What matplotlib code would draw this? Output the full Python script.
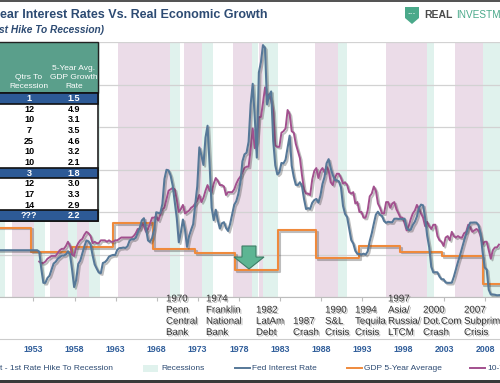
import matplotlib
matplotlib.use('Agg')
import matplotlib.pyplot as plt
import matplotlib.patheffects as pe
from matplotlib.patches import Rectangle, Polygon
from matplotlib.transforms import blended_transform_factory
import numpy as np

plt.rcParams['font.family'] = ['Liberation Sans Narrow', 'Liberation Sans', 'DejaVu Sans']

# ---- data ----
# Fed interest rate, quarterly, starting 1949 Q1
fed_start = 1949.0
fed_rate = [
    3.3, 3.3, 3.3, 3.3,      # 1949
    3.3, 3.3, 3.3, 3.3,      # 1950
    3.3, 3.3, 3.3, 3.3,      # 1951
    3.3, 3.3, 3.3, 3.3,      # 1952
    3.3, 3.3, 3.3, 3.3,      # 1953
    3.2, 2.0, 1.0, 1.0,      # 1954
    1.34, 1.50, 1.94, 2.36,  # 1955
    2.48, 2.69, 2.81, 2.93,
    2.93, 3.00, 3.23, 3.00,
    1.93, 0.70, 1.20, 2.33,
    2.57, 3.08, 3.58, 3.99,
    3.93, 3.70, 2.94, 2.30,  # 1960
    2.00, 1.73, 1.68, 2.40,
    2.46, 2.61, 2.85, 2.92,
    2.97, 2.96, 3.33, 3.45,
    3.46, 3.49, 3.46, 3.58,
    3.97, 4.08, 4.07, 4.17,  # 1965
    4.56, 4.91, 5.41, 5.56,
    4.82, 3.99, 3.89, 4.17,
    4.79, 5.98, 5.94, 5.92,
    6.57, 8.33, 8.98, 8.94,
    8.57, 7.88, 6.70, 5.57,  # 1970
    3.86, 4.56, 5.47, 4.75,
    3.54, 4.30, 4.74, 5.14,
    6.54, 7.82, 10.56, 10.00,
    9.32, 11.25, 12.09, 9.35,
    6.30, 5.42, 6.16, 5.41,  # 1975
    4.83, 5.20, 5.28, 4.87,
    4.66, 5.16, 5.82, 6.51,
    6.76, 7.28, 8.10, 9.58,
    10.07, 10.18, 10.95, 13.58,
    15.05, 12.69, 9.84, 15.85,  # 1980
    16.57, 17.78, 17.58, 13.59,
    14.23, 14.51, 11.01, 9.29,
    8.65, 8.80, 9.46, 9.43,
    9.69, 10.56, 11.39, 9.27,
    8.48, 7.92, 7.90, 8.10,  # 1985
    7.83, 6.92, 6.21, 6.27,
    6.22, 6.65, 6.84, 6.92,
    6.66, 7.16, 7.98, 8.47,
    9.44, 9.73, 9.08, 8.61,
    8.25, 8.24, 8.16, 7.74,  # 1990
    6.43, 5.86, 5.64, 4.82,
    4.02, 3.77, 3.26, 3.04,
    3.04, 3.00, 3.06, 2.99,
    3.21, 3.94, 4.49, 5.17,
    5.81, 6.02, 5.80, 5.72,  # 1995
    5.36, 5.24, 5.31, 5.28,
    5.28, 5.52, 5.53, 5.51,
    5.52, 5.50, 5.53, 4.86,
    4.73, 4.75, 5.09, 5.31,
    5.68, 6.27, 6.52, 6.47,  # 2000
    5.59, 4.33, 3.50, 2.13,
    1.73, 1.75, 1.74, 1.44,
    1.25, 1.25, 1.02, 1.00,
    1.00, 1.01, 1.43, 1.95,
    2.47, 2.94, 3.46, 3.98,  # 2005
    4.46, 4.91, 5.25, 5.25,
    5.26, 5.25, 5.07, 4.50,
    3.18, 2.09, 1.94, 0.51,
    0.18, 0.18, 0.16, 0.12,
    0.13,                    # 2010
]

# 10-year treasury rate, quarterly, starting 1954 Q1
tsy_start = 1954.0
tsy_rate = [
    2.5, 2.4, 2.4, 2.5,      # 1954
    2.7, 2.8, 2.9, 2.9,
    2.9, 3.1, 3.3, 3.4,
    3.4, 3.6, 3.9, 3.6,
    3.0, 2.9, 3.5, 3.8,
    4.0, 4.1, 4.4, 4.6,
    4.5, 4.3, 3.8, 3.9,      # 1960
    3.8, 3.8, 4.0, 4.0,
    4.0, 3.9, 4.0, 3.9,
    3.9, 4.0, 4.0, 4.1,
    4.2, 4.2, 4.2, 4.2,
    4.2, 4.2, 4.3, 4.5,      # 1965
    4.8, 4.8, 5.2, 5.0,
    4.6, 4.8, 5.2, 5.6,
    5.6, 5.7, 5.4, 5.8,
    6.2, 6.3, 6.9, 7.5,
    7.6, 7.7, 7.6, 6.9,      # 1970
    6.0, 6.2, 6.5, 5.9,
    6.0, 6.1, 6.3, 6.4,
    6.6, 6.8, 7.2, 6.7,
    7.0, 7.5, 7.9, 7.5,
    7.4, 8.0, 8.4, 8.2,      # 1975
    7.9, 7.9, 7.8, 7.2,
    7.4, 7.4, 7.4, 7.6,
    8.0, 8.3, 8.5, 8.8,
    9.1, 9.2, 9.2, 10.4,
    11.9, 10.5, 11.0, 12.7,  # 1980
    12.7, 13.7, 14.8, 14.1,
    14.3, 13.9, 13.1, 10.7,
    10.6, 10.6, 11.6, 11.7,
    11.9, 13.2, 12.9, 11.7,
    11.6, 10.8, 10.3, 9.8,   # 1985
    8.6, 7.6, 7.3, 7.3,
    7.2, 8.3, 8.9, 9.1,
    8.4, 8.9, 9.1, 8.8,
    9.2, 8.9, 8.1, 7.9,
    8.4, 8.7, 8.7, 8.4,      # 1990
    8.0, 8.1, 7.9, 7.4,
    7.3, 7.4, 6.6, 6.7,
    6.0, 6.0, 5.6, 5.6,
    6.1, 7.1, 7.3, 7.8,
    7.5, 6.6, 6.3, 5.9,      # 1995
    5.9, 6.7, 6.7, 6.3,
    6.6, 6.7, 6.2, 5.9,
    5.6, 5.6, 5.2, 4.7,
    5.0, 5.5, 5.9, 6.1,
    6.5, 6.2, 5.9, 5.6,      # 2000
    5.0, 5.3, 5.0, 4.8,
    5.1, 5.1, 4.3, 4.0,
    3.9, 3.6, 4.2, 4.3,
    4.0, 4.6, 4.3, 4.2,
    4.3, 4.2, 4.2, 4.5,      # 2005
    4.6, 5.1, 4.9, 4.6,
    4.7, 4.8, 4.7, 4.3,
    3.7, 3.9, 3.9, 3.3,
    2.7, 3.3, 3.5, 3.5,
    3.7,                     # 2010
]

# GDP 5-year average (step line)
gdp_breaks = [1949.0, 1953.0, 1958.0, 1963.0, 1967.86, 1972.98, 1977.85,
              1983.08, 1987.71, 1992.95, 1997.94, 2003.05, 2008.0, 2010.5]
gdp_avg = [4.9, 3.2, 3.5, 5.2, 3.4, 3.1, 1.9, 4.7, 2.75, 3.6, 3.2, 2.9, 0.9, 0.9]

# shaded periods
hike_start = [1950.68, 1955.31, 1958.60, 1963.59, 1971.63, 1977.60, 1980.77, 1987.59, 1996.27, 2004.58]
hike_end = [1953.36, 1957.50, 1960.06, 1969.93, 1973.82, 1979.91, 1981.26, 1990.39, 2001.17, 2007.99]
rec_start = [1949.0, 1953.36, 1957.50, 1960.06, 1969.93, 1973.82, 1979.91, 1981.26, 1990.39, 2001.17, 2007.99]
rec_end = [1949.83, 1954.70, 1958.60, 1961.40, 1971.15, 1975.16, 1980.64, 1983.08, 1991.49, 2002.14, 2010.5]

# table
qtrs = ['1', '12', '10', '7', '25', '10', '10', '3', '12', '17', '14', '???']
gdp_rate = ['1.5', '4.9', '3.1', '3.5', '4.6', '3.2', '2.1', '1.8', '3.0', '3.3', '2.9', '2.2']
highlight = [0, 7, 11]

# crisis labels under the axis
crisis_labels = ['1970\nPenn\nCentral\nBank', '1974\nFranklin\nNational\nBank', '1982\nLatAm\nDebt',
                 '1987\nCrash', '1990\nS&L\nCrisis', '1994\nTequila\nCrisis',
                 '1997\nAsia/\nRussia/\nLTCM', '2000\nDot.Com\nCrash', '2007\nSubprime\nCrisis']
crisis_x = [1969.44, 1974.31, 1980.40, 1984.91, 1988.81, 1992.46, 1996.48, 2000.75, 2005.74]

tick_years = list(range(1953, 2010, 5))

# ---- colours ----
c_fed = '#567898'
c_tsy = '#a2508e'
c_gdp = '#ef8a3c'
c_hike = '#ebdce8'
c_rec = '#e0f2ed'
c_text = '#2d4b73'

fig = plt.figure(figsize=(5.0, 3.83), dpi=100)
fig.patch.set_facecolor('white')

H = 383.0
ax = fig.add_axes([0, 86 / H, 1, 255 / H])
ax.set_xlim(1949.22, 2010.12)
ax.set_ylim(0, 18)

for s, e in zip(hike_start, hike_end):
    ax.axvspan(s, e, color=c_hike, lw=0, zorder=0)
for s, e in zip(rec_start, rec_end):
    ax.axvspan(s, e, color=c_rec, lw=0, zorder=0)

ax.set_yticks(np.arange(0, 19, 3))
ax.yaxis.grid(True, color='#d2d2d2', lw=0.9, zorder=1)
ax.set_axisbelow(False)
ax.tick_params(axis='y', length=0, labelleft=False)

shadow = [pe.SimpleLineShadow(offset=(1.2, -1.2), shadow_color='#444444', alpha=0.35), pe.Normal()]

fed_x = fed_start + 0.25 * np.arange(len(fed_rate))
tsy_x = tsy_start + 0.25 * np.arange(len(tsy_rate))
ax.step(gdp_breaks, gdp_avg, where='post', color=c_gdp, lw=1.5, zorder=3, path_effects=shadow)
ax.plot(tsy_x, tsy_rate, color=c_tsy, lw=1.4, zorder=4, path_effects=shadow)
ax.plot(fed_x, fed_rate, color=c_fed, lw=1.5, zorder=5, path_effects=shadow)

for sp in ['left', 'right', 'top']:
    ax.spines[sp].set_visible(False)
ax.spines['bottom'].set_color('#bdbdbd')
ax.set_xticks([y + 0.3 for y in tick_years])
ax.set_xticklabels([str(y) for y in tick_years], fontsize=6.3, color='#2f5d9a', fontweight='bold')
ax.tick_params(axis='x', length=3, color='#bdbdbd', pad=31.5)

# ---- overlay in pixel coordinates ----
ov = fig.add_axes([0, 0, 1, 1], zorder=10)
ov.set_xlim(0, 500)
ov.set_ylim(H, 0)
ov.axis('off')
ov.patch.set_alpha(0)

# frame
ov.add_patch(Rectangle((0, 0), 500, 1.6, color='#555555', lw=0))
ov.add_patch(Rectangle((0, 379.5), 500, 4, color='#3a3a3a', lw=0))

# title / subtitle
ov.text(0, 15, 'ear Interest Rates Vs. Real Economic Growth', fontsize=9.0, fontweight='bold',
        color=c_text, va='center', ha='left')
ov.text(-1, 30, 'st Hike To Recession)', fontsize=7.3, fontweight='bold', style='italic',
        color=c_text, va='center', ha='left')

# logo
ov.add_patch(Polygon([(405, 7), (419, 7), (419, 18), (412, 24), (405, 18)], closed=True,
                     fc='#4aa98a', ec='none'))
ov.text(412, 14.5, '···', color='white', fontsize=6, ha='center', va='center', fontweight='bold')
ov.text(424, 15, 'REAL', color='#4a4a4a', fontsize=7.5, fontweight='bold', va='center', ha='left')
ov.text(456, 15, 'INVESTMENT', color='#4aa98a', fontsize=7.2, va='center', ha='left')

# table
tx0, tx1 = -4, 98
hdr_top, hdr_bot = 42, 93
row_h = 10.67
ov.add_patch(Rectangle((tx0, hdr_top), tx1 - tx0, hdr_bot - hdr_top, fc='#5a9f8b', ec='#222222', lw=1))
ov.add_patch(Rectangle((tx0, hdr_bot), tx1 - tx0, row_h * len(qtrs), fc='white', ec='#222222', lw=1.2))
ov.text(29, 82, 'Qtrs To\nRecession', color='white', fontsize=6.0, ha='center', va='center', linespacing=1.3)
ov.text(74, 77.5, '5-Year Avg.\nGDP Growth\nRate', color='white', fontsize=6.0, ha='center', va='center',
        linespacing=1.3)
for i in range(len(qtrs)):
    y0 = hdr_bot + i * row_h
    tc = 'black'
    if i in highlight:
        ov.add_patch(Rectangle((tx0, y0), tx1 - tx0, row_h, fc='#2d5a96', ec='#111111', lw=1.2))
        tc = 'white'
    ov.text(29, y0 + row_h / 2, qtrs[i], color=tc, fontsize=6.5, fontweight='bold', ha='center', va='center')
    ov.text(74, y0 + row_h / 2, gdp_rate[i], color=tc, fontsize=6.5, fontweight='bold', ha='center', va='center')

# green arrow
ov.add_patch(Polygon([(242, 246), (256, 246), (256, 257), (264, 257), (249, 269), (234, 257), (242, 257)],
                     closed=True, fc='#5db593', ec='#3d7d66', lw=0.8))

# crisis labels
tshadow = [pe.SimplePatchShadow(offset=(1, -1), shadow_rgbFace='#888888', alpha=0.6), pe.Normal()]
bt = blended_transform_factory(ax.transData, ov.transData)
for lab, x in zip(crisis_labels, crisis_x):
    ov.text(x, 337, lab, transform=bt, fontsize=7, color='#333333', ha='left', va='bottom',
            linespacing=1.15, path_effects=tshadow)

ov.plot([0, 500], [339, 339], color='#cccccc', lw=0.8)

# legend
lfs = 6.0
ov.text(0.5, 368, 't - 1st Rate Hike To Recession', color=c_text, fontsize=lfs, ha='left', va='center')
ov.add_patch(Rectangle((143, 364.5), 15, 7, fc=c_rec, ec='none'))
ov.text(161, 368, 'Recessions', color=c_text, fontsize=lfs, ha='left', va='center')
ov.plot([235, 250], [368, 368], color=c_fed, lw=1.4)
ov.text(252, 368, 'Fed Interest Rate', color=c_text, fontsize=lfs, ha='left', va='center')
ov.plot([347, 362], [368, 368], color=c_gdp, lw=1.4)
ov.text(364, 368, 'GDP 5-Year Average', color=c_text, fontsize=lfs, ha='left', va='center')
ov.plot([470, 485], [368, 368], color=c_tsy, lw=1.4)
ov.text(487, 368, '10-Year', color=c_text, fontsize=lfs, ha='left', va='center')

fig.savefig('out.png', dpi=100)
